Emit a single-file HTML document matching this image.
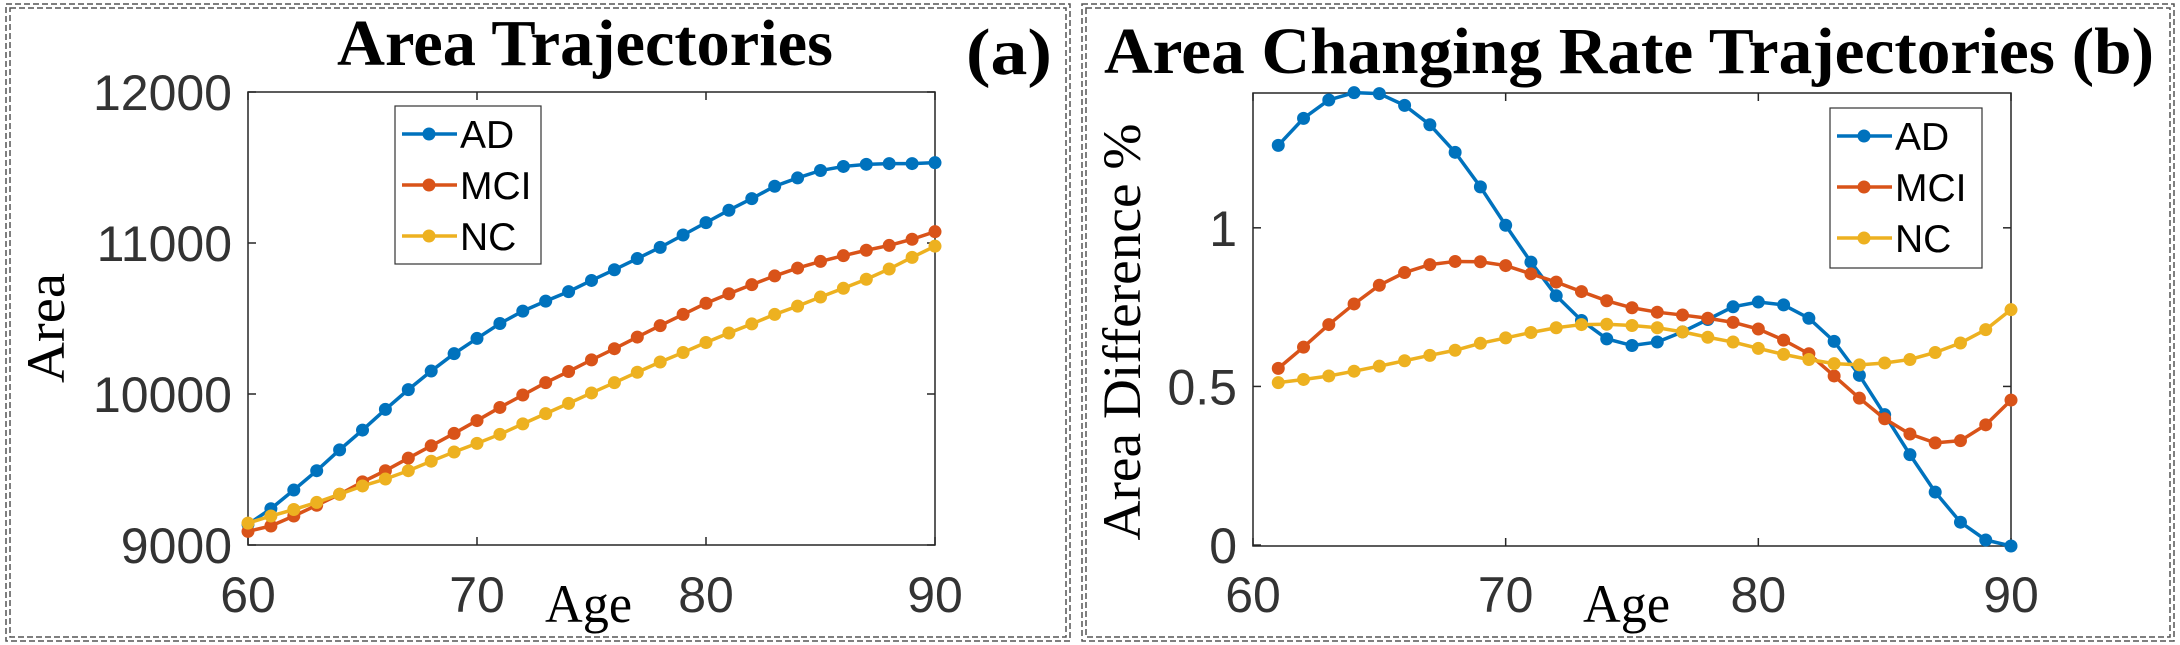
<!DOCTYPE html>
<html><head><meta charset="utf-8"><style>
html,body{margin:0;padding:0;background:#fff;}
svg{display:block;}
.tick{font-family:"Liberation Sans",sans-serif;font-size:50px;fill:#333;}
.ttl{font-family:"Liberation Serif",serif;font-weight:bold;font-size:66px;fill:#000;}
.lab{font-family:"Liberation Serif",serif;font-size:54px;fill:#000;}
.leg{font-family:"Liberation Sans",sans-serif;font-size:39px;fill:#000;}
</style></head><body>
<svg id="chart" width="2180" height="645" viewBox="0 0 2180 645" xmlns="http://www.w3.org/2000/svg">
<g fill="none" stroke="#555" stroke-width="1.5" stroke-dasharray="6,3">
<rect x="6" y="4" width="1064" height="637"/><rect x="10" y="8" width="1056" height="629"/></g>
<g fill="none" stroke="#555" stroke-width="1.5" stroke-dasharray="6,3">
<rect x="1082" y="4" width="1092" height="637"/><rect x="1086" y="8" width="1084" height="629"/></g>
<text class="ttl" x="337" y="65" textLength="496" lengthAdjust="spacingAndGlyphs">Area Trajectories</text>
<text class="ttl" x="966" y="74" font-size="70" textLength="86" lengthAdjust="spacingAndGlyphs">(a)</text>
<text class="ttl" x="1104" y="73" textLength="1050" lengthAdjust="spacingAndGlyphs">Area Changing Rate Trajectories (b)</text>
<text class="lab" transform="translate(64,328) rotate(-90)" text-anchor="middle" textLength="110" lengthAdjust="spacingAndGlyphs">Area</text>
<text class="lab" x="545" y="622" textLength="87" lengthAdjust="spacingAndGlyphs">Age</text>
<text class="lab" transform="translate(1140,332) rotate(-90)" text-anchor="middle" textLength="417" lengthAdjust="spacingAndGlyphs">Area Difference %</text>
<text class="lab" x="1583" y="622" textLength="87" lengthAdjust="spacingAndGlyphs">Age</text>
<g id="pa"></g><g id="pb"></g>
</svg>
<script>
const ages = Array.from({length:31},(_,i)=>60+i);
const agesB = Array.from({length:30},(_,i)=>61+i);
const xTicks = [60,70,80,90];
const yTicksA = [9000,10000,11000,12000];
const yTicksB = [0,0.5,1];
const yTickLabelsB = ["0","0.5","1"];
const seriesNames = ["AD","MCI","NC"];
const colors = ["#0072BD","#D95319","#EDB120"];
const adA = [9137,9240,9364,9492,9630,9761,9898,10029,10152,10267,10368,10467,10549,10615,10678,10752,10823,10897,10971,11053,11135,11217,11294,11376,11431,11480,11507,11521,11526,11526,11532];
const mciA = [9090,9126,9192,9263,9336,9418,9492,9575,9657,9739,9824,9911,9993,10075,10149,10226,10300,10377,10453,10527,10601,10664,10724,10782,10834,10878,10916,10952,10984,11025,11075];
const ncA = [9145,9192,9235,9282,9336,9391,9437,9492,9555,9616,9673,9733,9802,9870,9938,10007,10075,10144,10212,10275,10341,10404,10464,10527,10582,10642,10700,10760,10828,10905,10979];
const adB = [1.26,1.345,1.403,1.426,1.423,1.386,1.325,1.238,1.129,1.008,0.892,0.786,0.708,0.650,0.629,0.640,0.672,0.711,0.751,0.766,0.757,0.715,0.642,0.535,0.411,0.285,0.167,0.072,0.016,-0.003];
const mciB = [0.557,0.624,0.695,0.760,0.819,0.859,0.884,0.894,0.893,0.881,0.855,0.829,0.799,0.770,0.748,0.734,0.725,0.715,0.702,0.681,0.646,0.603,0.533,0.463,0.398,0.350,0.322,0.329,0.379,0.457];
const ncB = [0.512,0.522,0.533,0.548,0.564,0.581,0.598,0.614,0.636,0.653,0.670,0.685,0.695,0.696,0.692,0.685,0.672,0.655,0.640,0.620,0.601,0.585,0.572,0.568,0.574,0.585,0.607,0.637,0.679,0.742];
const NS="http://www.w3.org/2000/svg";
function mk(p,t,a){const e=document.createElementNS(NS,t);for(const k in a)e.setAttribute(k,a[k]);p.appendChild(e);return e;}
function panel(g,id,L,R,T,B,ymin,ymax,yt,ytl,xs,data,leg){
  const sx=v=>L+(v-60)/30*(R-L), sy=v=>B-(v-ymin)/(ymax-ymin)*(B-T);
  const box=mk(g,'rect',{x:L,y:T,width:R-L,height:B-T,fill:'#fff',stroke:'#262626','stroke-width':1.5});
  
  
  xTicks.forEach(t=>{
    mk(g,'line',{x1:sx(t),x2:sx(t),y1:B,y2:B-8,stroke:'#262626','stroke-width':1.5});
    mk(g,'line',{x1:sx(t),x2:sx(t),y1:T,y2:T+8,stroke:'#262626','stroke-width':1.5});
    const tx=mk(g,'text',{x:sx(t),y:612,'text-anchor':'middle',class:'tick'});tx.textContent=t;
    
    
  });
  yt.forEach((t,i)=>{
    mk(g,'line',{x1:L,x2:L+8,y1:sy(t),y2:sy(t),stroke:'#262626','stroke-width':1.5});
    mk(g,'line',{x1:R,x2:R-8,y1:sy(t),y2:sy(t),stroke:'#262626','stroke-width':1.5});
    const tx=mk(g,'text',{x:L-16,y:sy(t)+18,'text-anchor':'end',class:'tick'});tx.textContent=ytl[i];
    
    
  });
  data.forEach((d,si)=>{
    const s=mk(g,'g',{});
    
    
    mk(s,'polyline',{points:d.map((v,i)=>sx(xs[i])+','+sy(v)).join(' '),fill:'none',stroke:colors[si],'stroke-width':3.5});
    d.forEach((v,i)=>{const c=mk(s,'circle',{cx:sx(xs[i]),cy:sy(v),r:6.5,fill:colors[si]});
      
      });
  });
  const lg=mk(g,'g',{});
  
  
  mk(lg,'rect',{x:leg.x,y:leg.y,width:leg.w,height:leg.h,fill:'#fff',stroke:'#333','stroke-width':1.2});
  seriesNames.forEach((n,i)=>{
    const e=mk(lg,'g',{});
    
    
    const y=leg.y+28+i*51;
    mk(e,'line',{x1:leg.x+7,x2:leg.x+62,y1:y,y2:y,stroke:colors[i],'stroke-width':3.5});
    mk(e,'circle',{cx:leg.x+34,cy:y,r:6.5,fill:colors[i]});
    const t=mk(e,'text',{x:leg.x+65,y:y+14,class:'leg'});t.textContent=n;
  });
}
panel(document.getElementById('pa'),'panel-a',248,935,92,545,9000,12000,yTicksA,yTicksA,ages,[adA,mciA,ncA],{x:395,y:106,w:146,h:158});
panel(document.getElementById('pb'),'panel-b',1253,2011,93,546,-0.003,1.425,yTicksB,yTickLabelsB,agesB,[adB,mciB,ncB],{x:1830,y:108,w:152,h:160});
</script>
</body></html>
